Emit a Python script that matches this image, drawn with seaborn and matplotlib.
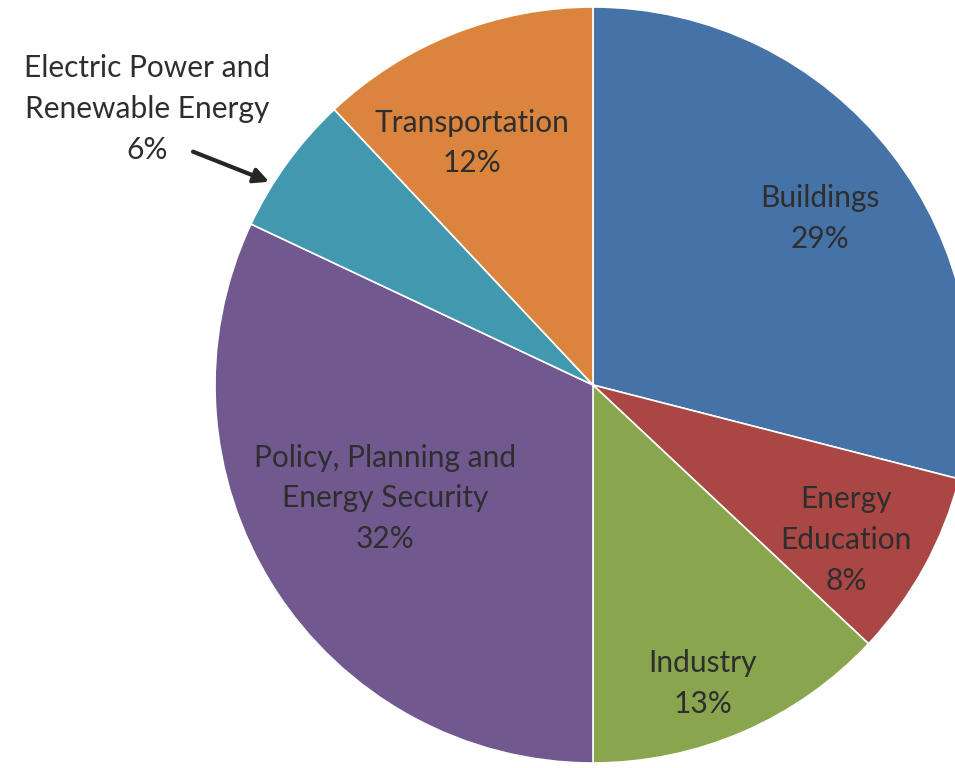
import matplotlib
matplotlib.use("Agg")
import matplotlib.pyplot as plt
import numpy as np
import seaborn as sns

# data
categories = ["Buildings", "Energy\nEducation", "Industry",
              "Policy, Planning and\nEnergy Security",
              "Electric Power and\nRenewable Energy", "Transportation"]
shares = [29, 8, 13, 32, 6, 12]
colors = ["#4572A7", "#AA4643", "#89A54E", "#71588F", "#4198AF", "#DB843D"]

# label placement (x, y in pie units), the electric power one is the outside callout
label_pos = [(0.60, 0.44), (0.67, -0.41), (0.29, -0.79), (-0.55, -0.30),
             (-1.18, 0.73), (-0.32, 0.64)]

sns.set_theme(style="white")
plt.rcParams["font.family"] = ["Lato", "DejaVu Sans"]

fig = plt.figure(figsize=(9.55, 7.68), dpi=100)
r_px = 378
cx, cy = 593, 385
ax = fig.add_axes([(cx - r_px) / 955, (768 - cy - r_px) / 768,
                   2 * r_px / 955, 2 * r_px / 768])

wedges, _ = ax.pie(shares, colors=colors, startangle=90, counterclock=False,
                   radius=1.0, wedgeprops=dict(edgecolor="white", linewidth=1.2))
for w in wedges:
    w.set_clip_on(False)

ax.set_xlim(-1, 1)
ax.set_ylim(-1, 1)
ax.set_aspect("auto")
ax.axis("off")

for name, val, (x, y) in zip(categories, shares, label_pos):
    ax.text(x, y, f"{name}\n{val}%", ha="center", va="center", fontsize=21.5,
            color="#2e2e2e", linespacing=1.55, clip_on=False)

ax.annotate("", xy=(-0.85, 0.535), xytext=(-1.065, 0.62),
            arrowprops=dict(arrowstyle="-|>", color="#262626", lw=3,
                            mutation_scale=22), annotation_clip=False)

fig.savefig("out.png", dpi=100)
